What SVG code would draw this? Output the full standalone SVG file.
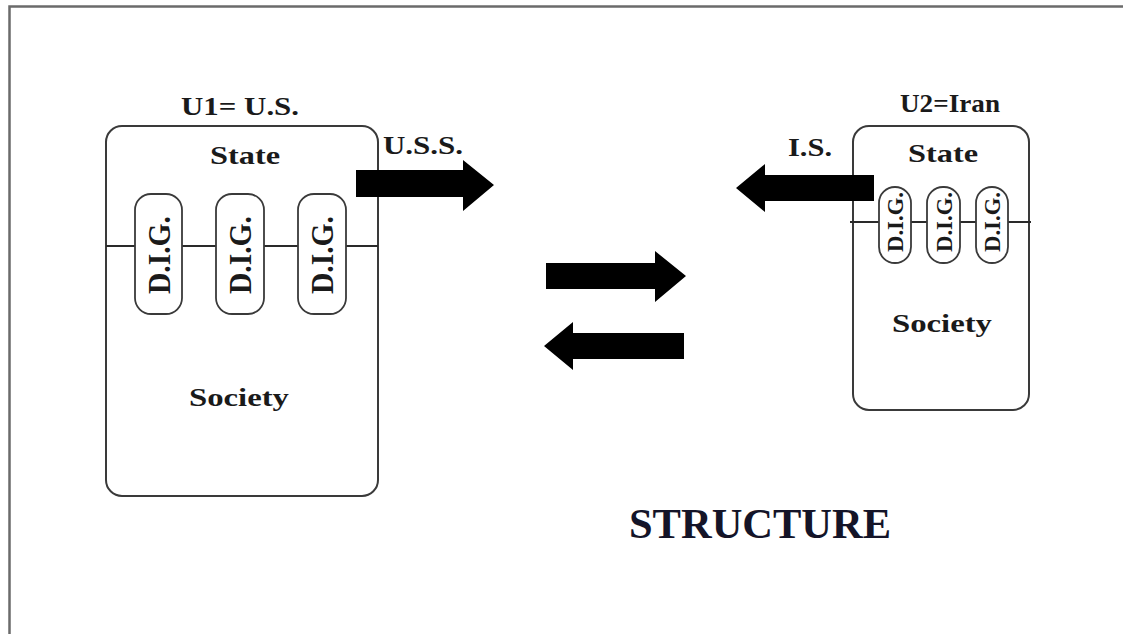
<svg xmlns="http://www.w3.org/2000/svg" width="1123" height="634" viewBox="0 0 1123 634">
<style>
.frame{fill:none;stroke:#6b6b6b;stroke-width:2.5}
.box{fill:#fff;stroke:#3a3a3a;stroke-width:2}
.pill{fill:#fff;stroke:#3a3a3a;stroke-width:1.8}
.ln{stroke:#2a2a2a;stroke-width:1.8}
.lbl{font-family:"Liberation Serif",serif;font-weight:bold;fill:#1a1a1a;text-anchor:middle}
.arr{fill:#000}
</style>
<rect width="1123" height="634" fill="#fff"/>
<path class="frame" d="M9.5,634 V6.5 H1123"/>
<g id="us">
<text class="lbl" x="240" y="115" font-size="26" textLength="118" lengthAdjust="spacingAndGlyphs">U1= U.S.</text>
<rect class="box" x="106" y="126" width="272" height="370" rx="16"/>
<text class="lbl" x="245" y="164" font-size="25" textLength="70" lengthAdjust="spacingAndGlyphs">State</text>
<line class="ln" x1="106" y1="246" x2="378" y2="246"/>
<rect class="pill" x="135" y="194" width="47" height="120" rx="16"/>
<rect class="pill" x="216" y="194" width="48" height="120" rx="16"/>
<rect class="pill" x="298" y="194" width="48" height="120" rx="16"/>
<text class="lbl" font-size="31" transform="translate(170,255) rotate(-90)" textLength="78" lengthAdjust="spacingAndGlyphs">D.I.G.</text>
<text class="lbl" font-size="31" transform="translate(251,255) rotate(-90)" textLength="78" lengthAdjust="spacingAndGlyphs">D.I.G.</text>
<text class="lbl" font-size="31" transform="translate(333,255) rotate(-90)" textLength="78" lengthAdjust="spacingAndGlyphs">D.I.G.</text>
<text class="lbl" x="239" y="406" font-size="25" textLength="100" lengthAdjust="spacingAndGlyphs">Society</text>
</g>
<g id="iran">
<text class="lbl" x="950" y="112" font-size="26" textLength="100" lengthAdjust="spacingAndGlyphs">U2=Iran</text>
<rect class="box" x="853" y="126" width="176" height="284" rx="16"/>
<text class="lbl" x="943" y="162" font-size="25" textLength="70" lengthAdjust="spacingAndGlyphs">State</text>
<line class="ln" x1="850" y1="222" x2="1031" y2="222"/>
<rect class="pill" x="879" y="187" width="32" height="76" rx="16"/>
<rect class="pill" x="927" y="187" width="33" height="76" rx="16"/>
<rect class="pill" x="976" y="187" width="32" height="76" rx="16"/>
<text class="lbl" font-size="23" transform="translate(903,222) rotate(-90)" textLength="60" lengthAdjust="spacingAndGlyphs">D.I.G.</text>
<text class="lbl" font-size="23" transform="translate(952,222) rotate(-90)" textLength="60" lengthAdjust="spacingAndGlyphs">D.I.G.</text>
<text class="lbl" font-size="23" transform="translate(1000,222) rotate(-90)" textLength="60" lengthAdjust="spacingAndGlyphs">D.I.G.</text>
<text class="lbl" x="942" y="332" font-size="25" textLength="100" lengthAdjust="spacingAndGlyphs">Society</text>
</g>
<g id="connectors">
<text class="lbl" x="423" y="154" font-size="25" textLength="80" lengthAdjust="spacingAndGlyphs">U.S.S.</text>
<polygon class="arr" points="356,170 463,170 463,160 494,185 463,211 463,197 356,197"/>
<text class="lbl" x="810" y="156" font-size="25" textLength="44" lengthAdjust="spacingAndGlyphs">I.S.</text>
<polygon class="arr" points="874,175 765,175 765,164 736,188 765,212 765,201 874,201"/>
<polygon class="arr" points="546,263 655,263 655,251 686,276 655,302 655,289 546,289"/>
<polygon class="arr" points="684,333 573,333 573,322 544,346 573,370 573,359 684,359"/>
</g>
<text x="760" y="538" font-family="Liberation Serif,serif" font-weight="bold" font-size="42" fill="#141428" text-anchor="middle" textLength="262" lengthAdjust="spacingAndGlyphs">STRUCTURE</text>
</svg>
